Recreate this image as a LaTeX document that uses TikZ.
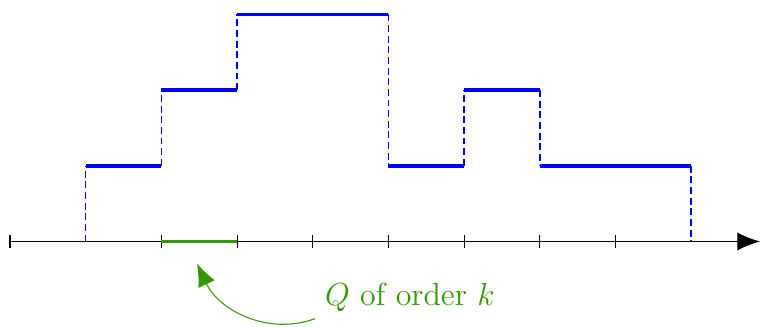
\documentclass[tikz,border=0pt]{standalone}
\usepackage{xcolor}
\usepackage{tikz}
\usetikzlibrary{arrows.meta, positioning}
\definecolor{stepblue} {HTML}{0000FF}
\definecolor{cubegreen}{HTML}{339900}

\begin{document}
\begin{tikzpicture}[
    x=1cm, y=1cm,
    axis/.style={-{Latex[length=3mm, width=2.4mm]}, black},
    level/.style={stepblue, line width=1.3pt},
    jump/.style={stepblue, line width=0.6pt, dash pattern=on 2.6pt off 1.4pt},
    cube/.style={cubegreen, line width=1.3pt},
    lbl/.style={text=cubegreen, font=\large, inner sep=1pt},
  ]
    \useasboundingbox (-0.132,-1.123) rectangle (9.908,3.19);

    % axis with ticks
    \coordinate (o) at (0,0);
    \coordinate (e) at (9.908,0);
    \draw[axis] (o) -- (e);
    \foreach \i in {0,2,3,4,5,6,7,8}
      \draw (\i,-0.08) -- (\i,0.08);

    % jumps
    \draw[jump] (1,0) -- (1,1);
    \draw[jump] (2,1) -- (2,2);
    \draw[jump] (3,2) -- (3,3);
    \draw[jump] (5,3) -- (5,1);
    \draw[jump] (6,1) -- (6,2);
    \draw[jump] (7,2) -- (7,1);
    \draw[jump] (9,1) -- (9,0);

    % levels
    \foreach \a/\b/\h in {1/2/1, 2/3/2, 3/5/3, 5/6/1, 6/7/2, 7/9/1}
      \draw[level] (\a,\h) -- (\b,\h);

    % the cube Q
    \coordinate (qa) at (2,0);
    \coordinate (qb) at (3,0);
    \draw[cube] (qa) -- (qb);

    \node[lbl, anchor=west] (qlabel) at (4.12,-0.74) {$Q$ of order $k$};
    \coordinate (qtip) at (2.47,-0.29);
    \draw[cubegreen, -{Latex[length=3mm, width=2.4mm]}]
      (4.03,-1.02) coordinate (qstart) to[out=200, in=-65] (qtip);
  \end{tikzpicture}
\end{document}
